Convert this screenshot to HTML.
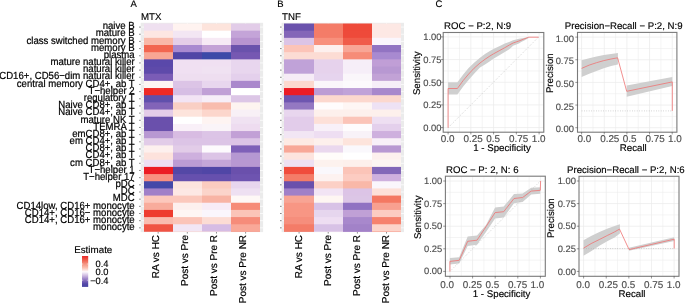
<!DOCTYPE html><html><head><meta charset="utf-8"><style>html,body{margin:0;padding:0;background:#fff;}body{width:685px;height:303px;overflow:hidden;} svg{display:block;will-change:transform;text-rendering:geometricPrecision;}</style></head><body><svg width="685" height="303" viewBox="0 0 685 303" font-family='"Liberation Sans", sans-serif'>
<rect width="685" height="303" fill="#fff"/>
<rect x="140.70" y="22.80" width="122.40" height="209.33" fill="#ebebeb"/>
<line x1="140.70" y1="27.09" x2="263.10" y2="27.09" stroke="#fff" stroke-width="0.7"/>
<line x1="140.70" y1="34.25" x2="263.10" y2="34.25" stroke="#fff" stroke-width="0.7"/>
<line x1="140.70" y1="41.42" x2="263.10" y2="41.42" stroke="#fff" stroke-width="0.7"/>
<line x1="140.70" y1="48.59" x2="263.10" y2="48.59" stroke="#fff" stroke-width="0.7"/>
<line x1="140.70" y1="55.77" x2="263.10" y2="55.77" stroke="#fff" stroke-width="0.7"/>
<line x1="140.70" y1="62.94" x2="263.10" y2="62.94" stroke="#fff" stroke-width="0.7"/>
<line x1="140.70" y1="70.10" x2="263.10" y2="70.10" stroke="#fff" stroke-width="0.7"/>
<line x1="140.70" y1="77.28" x2="263.10" y2="77.28" stroke="#fff" stroke-width="0.7"/>
<line x1="140.70" y1="84.44" x2="263.10" y2="84.44" stroke="#fff" stroke-width="0.7"/>
<line x1="140.70" y1="91.61" x2="263.10" y2="91.61" stroke="#fff" stroke-width="0.7"/>
<line x1="140.70" y1="98.78" x2="263.10" y2="98.78" stroke="#fff" stroke-width="0.7"/>
<line x1="140.70" y1="105.95" x2="263.10" y2="105.95" stroke="#fff" stroke-width="0.7"/>
<line x1="140.70" y1="113.12" x2="263.10" y2="113.12" stroke="#fff" stroke-width="0.7"/>
<line x1="140.70" y1="120.30" x2="263.10" y2="120.30" stroke="#fff" stroke-width="0.7"/>
<line x1="140.70" y1="127.47" x2="263.10" y2="127.47" stroke="#fff" stroke-width="0.7"/>
<line x1="140.70" y1="134.63" x2="263.10" y2="134.63" stroke="#fff" stroke-width="0.7"/>
<line x1="140.70" y1="141.81" x2="263.10" y2="141.81" stroke="#fff" stroke-width="0.7"/>
<line x1="140.70" y1="148.97" x2="263.10" y2="148.97" stroke="#fff" stroke-width="0.7"/>
<line x1="140.70" y1="156.15" x2="263.10" y2="156.15" stroke="#fff" stroke-width="0.7"/>
<line x1="140.70" y1="163.31" x2="263.10" y2="163.31" stroke="#fff" stroke-width="0.7"/>
<line x1="140.70" y1="170.48" x2="263.10" y2="170.48" stroke="#fff" stroke-width="0.7"/>
<line x1="140.70" y1="177.66" x2="263.10" y2="177.66" stroke="#fff" stroke-width="0.7"/>
<line x1="140.70" y1="184.82" x2="263.10" y2="184.82" stroke="#fff" stroke-width="0.7"/>
<line x1="140.70" y1="192.00" x2="263.10" y2="192.00" stroke="#fff" stroke-width="0.7"/>
<line x1="140.70" y1="199.16" x2="263.10" y2="199.16" stroke="#fff" stroke-width="0.7"/>
<line x1="140.70" y1="206.34" x2="263.10" y2="206.34" stroke="#fff" stroke-width="0.7"/>
<line x1="140.70" y1="213.50" x2="263.10" y2="213.50" stroke="#fff" stroke-width="0.7"/>
<line x1="140.70" y1="220.68" x2="263.10" y2="220.68" stroke="#fff" stroke-width="0.7"/>
<line x1="140.70" y1="227.84" x2="263.10" y2="227.84" stroke="#fff" stroke-width="0.7"/>
<line x1="158.17" y1="22.80" x2="158.17" y2="232.13" stroke="#fff" stroke-width="0.7"/>
<line x1="187.32" y1="22.80" x2="187.32" y2="232.13" stroke="#fff" stroke-width="0.7"/>
<line x1="216.47" y1="22.80" x2="216.47" y2="232.13" stroke="#fff" stroke-width="0.7"/>
<line x1="245.62" y1="22.80" x2="245.62" y2="232.13" stroke="#fff" stroke-width="0.7"/>
<rect x="144.00" y="23.50" width="29.00" height="207.93" fill="#efe0f0"/>
<rect x="173.00" y="23.50" width="29.00" height="207.93" fill="#fff3f0"/>
<rect x="202.00" y="23.50" width="29.00" height="207.93" fill="#fde4dc"/>
<rect x="231.00" y="23.50" width="29.00" height="207.93" fill="#e2cce8"/>
<rect x="144.00" y="30.67" width="29.00" height="200.76" fill="#fde6e2"/>
<rect x="173.00" y="30.67" width="29.00" height="200.76" fill="#f3e6f3"/>
<rect x="202.00" y="30.67" width="29.00" height="200.76" fill="#ffffff"/>
<rect x="231.00" y="30.67" width="29.00" height="200.76" fill="#c4a4d8"/>
<rect x="144.00" y="37.84" width="29.00" height="193.59" fill="#f9b8a8"/>
<rect x="173.00" y="37.84" width="29.00" height="193.59" fill="#e4cee8"/>
<rect x="202.00" y="37.84" width="29.00" height="193.59" fill="#f7eaf5"/>
<rect x="231.00" y="37.84" width="29.00" height="193.59" fill="#b894d0"/>
<rect x="144.00" y="45.01" width="29.00" height="186.42" fill="#f26650"/>
<rect x="173.00" y="45.01" width="29.00" height="186.42" fill="#a88ad0"/>
<rect x="202.00" y="45.01" width="29.00" height="186.42" fill="#c4a2d6"/>
<rect x="231.00" y="45.01" width="29.00" height="186.42" fill="#6a52ac"/>
<rect x="144.00" y="52.18" width="29.00" height="179.25" fill="#f8a694"/>
<rect x="173.00" y="52.18" width="29.00" height="179.25" fill="#5046a6"/>
<rect x="202.00" y="52.18" width="29.00" height="179.25" fill="#3d4aa8"/>
<rect x="231.00" y="52.18" width="29.00" height="179.25" fill="#7658b2"/>
<rect x="144.00" y="59.35" width="29.00" height="172.08" fill="#5a48aa"/>
<rect x="173.00" y="59.35" width="29.00" height="172.08" fill="#f0e0f2"/>
<rect x="202.00" y="59.35" width="29.00" height="172.08" fill="#f0e0f2"/>
<rect x="231.00" y="59.35" width="29.00" height="172.08" fill="#e8d6ee"/>
<rect x="144.00" y="66.52" width="29.00" height="164.91" fill="#5e4aaa"/>
<rect x="173.00" y="66.52" width="29.00" height="164.91" fill="#f0e0f2"/>
<rect x="202.00" y="66.52" width="29.00" height="164.91" fill="#f0e2f2"/>
<rect x="231.00" y="66.52" width="29.00" height="164.91" fill="#e8d6ee"/>
<rect x="144.00" y="73.69" width="29.00" height="157.74" fill="#7a5cb6"/>
<rect x="173.00" y="73.69" width="29.00" height="157.74" fill="#eedef0"/>
<rect x="202.00" y="73.69" width="29.00" height="157.74" fill="#eedef0"/>
<rect x="231.00" y="73.69" width="29.00" height="157.74" fill="#e4d0ec"/>
<rect x="144.00" y="80.86" width="29.00" height="150.57" fill="#fdf4f2"/>
<rect x="173.00" y="80.86" width="29.00" height="150.57" fill="#dcc4e6"/>
<rect x="202.00" y="80.86" width="29.00" height="150.57" fill="#e8d6ee"/>
<rect x="231.00" y="80.86" width="29.00" height="150.57" fill="#aa88cc"/>
<rect x="144.00" y="88.03" width="29.00" height="143.40" fill="#ee2a26"/>
<rect x="173.00" y="88.03" width="29.00" height="143.40" fill="#d6bee4"/>
<rect x="202.00" y="88.03" width="29.00" height="143.40" fill="#c0a0d6"/>
<rect x="231.00" y="88.03" width="29.00" height="143.40" fill="#ffffff"/>
<rect x="144.00" y="95.20" width="29.00" height="136.23" fill="#6050ac"/>
<rect x="173.00" y="95.20" width="29.00" height="136.23" fill="#f2e4f4"/>
<rect x="202.00" y="95.20" width="29.00" height="136.23" fill="#f6eef8"/>
<rect x="231.00" y="95.20" width="29.00" height="136.23" fill="#dcc6e6"/>
<rect x="144.00" y="102.37" width="29.00" height="129.06" fill="#8264b8"/>
<rect x="173.00" y="102.37" width="29.00" height="129.06" fill="#f9cfc4"/>
<rect x="202.00" y="102.37" width="29.00" height="129.06" fill="#f8bcae"/>
<rect x="231.00" y="102.37" width="29.00" height="129.06" fill="#fdf4f0"/>
<rect x="144.00" y="109.54" width="29.00" height="121.89" fill="#e4cce8"/>
<rect x="173.00" y="109.54" width="29.00" height="121.89" fill="#fde4dc"/>
<rect x="202.00" y="109.54" width="29.00" height="121.89" fill="#fcd6cc"/>
<rect x="231.00" y="109.54" width="29.00" height="121.89" fill="#f8f0f6"/>
<rect x="144.00" y="116.71" width="29.00" height="114.72" fill="#6a50ac"/>
<rect x="173.00" y="116.71" width="29.00" height="114.72" fill="#ffffff"/>
<rect x="202.00" y="116.71" width="29.00" height="114.72" fill="#fef4f2"/>
<rect x="231.00" y="116.71" width="29.00" height="114.72" fill="#f0e2f2"/>
<rect x="144.00" y="123.88" width="29.00" height="107.55" fill="#6a50ac"/>
<rect x="173.00" y="123.88" width="29.00" height="107.55" fill="#f9f0f8"/>
<rect x="202.00" y="123.88" width="29.00" height="107.55" fill="#faf4f8"/>
<rect x="231.00" y="123.88" width="29.00" height="107.55" fill="#eedcf0"/>
<rect x="144.00" y="131.05" width="29.00" height="100.38" fill="#b898d2"/>
<rect x="173.00" y="131.05" width="29.00" height="100.38" fill="#d8bce2"/>
<rect x="202.00" y="131.05" width="29.00" height="100.38" fill="#dcc4e6"/>
<rect x="231.00" y="131.05" width="29.00" height="100.38" fill="#c2a0d6"/>
<rect x="144.00" y="138.22" width="29.00" height="93.21" fill="#e2cce8"/>
<rect x="173.00" y="138.22" width="29.00" height="93.21" fill="#dcc4e6"/>
<rect x="202.00" y="138.22" width="29.00" height="93.21" fill="#dcc4e6"/>
<rect x="231.00" y="138.22" width="29.00" height="93.21" fill="#dcc4e6"/>
<rect x="144.00" y="145.39" width="29.00" height="86.04" fill="#fdf0ee"/>
<rect x="173.00" y="145.39" width="29.00" height="86.04" fill="#e2cce8"/>
<rect x="202.00" y="145.39" width="29.00" height="86.04" fill="#fdfafd"/>
<rect x="231.00" y="145.39" width="29.00" height="86.04" fill="#7e60b8"/>
<rect x="144.00" y="152.56" width="29.00" height="78.87" fill="#fde2dc"/>
<rect x="173.00" y="152.56" width="29.00" height="78.87" fill="#ceb0de"/>
<rect x="202.00" y="152.56" width="29.00" height="78.87" fill="#dcc4e6"/>
<rect x="231.00" y="152.56" width="29.00" height="78.87" fill="#b598d2"/>
<rect x="144.00" y="159.73" width="29.00" height="71.70" fill="#eedef2"/>
<rect x="173.00" y="159.73" width="29.00" height="71.70" fill="#bc9cd4"/>
<rect x="202.00" y="159.73" width="29.00" height="71.70" fill="#c4a6d8"/>
<rect x="231.00" y="159.73" width="29.00" height="71.70" fill="#b898d2"/>
<rect x="144.00" y="166.90" width="29.00" height="64.53" fill="#ec1c24"/>
<rect x="173.00" y="166.90" width="29.00" height="64.53" fill="#5448a6"/>
<rect x="202.00" y="166.90" width="29.00" height="64.53" fill="#5046a6"/>
<rect x="231.00" y="166.90" width="29.00" height="64.53" fill="#6a50ac"/>
<rect x="144.00" y="174.07" width="29.00" height="57.36" fill="#f99080"/>
<rect x="173.00" y="174.07" width="29.00" height="57.36" fill="#6650ae"/>
<rect x="202.00" y="174.07" width="29.00" height="57.36" fill="#6650ae"/>
<rect x="231.00" y="174.07" width="29.00" height="57.36" fill="#6e54b0"/>
<rect x="144.00" y="181.24" width="29.00" height="50.19" fill="#4448a8"/>
<rect x="173.00" y="181.24" width="29.00" height="50.19" fill="#fde4de"/>
<rect x="202.00" y="181.24" width="29.00" height="50.19" fill="#fbccc0"/>
<rect x="231.00" y="181.24" width="29.00" height="50.19" fill="#e8d6ee"/>
<rect x="144.00" y="188.41" width="29.00" height="43.02" fill="#a080c8"/>
<rect x="173.00" y="188.41" width="29.00" height="43.02" fill="#fde8e4"/>
<rect x="202.00" y="188.41" width="29.00" height="43.02" fill="#fbd4ca"/>
<rect x="231.00" y="188.41" width="29.00" height="43.02" fill="#eee0f2"/>
<rect x="144.00" y="195.58" width="29.00" height="35.85" fill="#fcc8bc"/>
<rect x="173.00" y="195.58" width="29.00" height="35.85" fill="#fbc8bc"/>
<rect x="202.00" y="195.58" width="29.00" height="35.85" fill="#f8b4a4"/>
<rect x="231.00" y="195.58" width="29.00" height="35.85" fill="#fef8f6"/>
<rect x="144.00" y="202.75" width="29.00" height="28.68" fill="#f8ac9c"/>
<rect x="173.00" y="202.75" width="29.00" height="28.68" fill="#fdf0ee"/>
<rect x="202.00" y="202.75" width="29.00" height="28.68" fill="#f8ecf6"/>
<rect x="231.00" y="202.75" width="29.00" height="28.68" fill="#f68c78"/>
<rect x="144.00" y="209.92" width="29.00" height="21.51" fill="#ee3c30"/>
<rect x="173.00" y="209.92" width="29.00" height="21.51" fill="#fef6f4"/>
<rect x="202.00" y="209.92" width="29.00" height="21.51" fill="#faf6fc"/>
<rect x="231.00" y="209.92" width="29.00" height="21.51" fill="#fbc4b8"/>
<rect x="144.00" y="217.09" width="29.00" height="14.34" fill="#f9bcb0"/>
<rect x="173.00" y="217.09" width="29.00" height="14.34" fill="#fbc4b8"/>
<rect x="202.00" y="217.09" width="29.00" height="14.34" fill="#fcdcd4"/>
<rect x="231.00" y="217.09" width="29.00" height="14.34" fill="#f68c7a"/>
<rect x="144.00" y="224.26" width="29.00" height="7.17" fill="#f05444"/>
<rect x="173.00" y="224.26" width="29.00" height="7.17" fill="#f2e6f4"/>
<rect x="202.00" y="224.26" width="29.00" height="7.17" fill="#d6bce4"/>
<rect x="231.00" y="224.26" width="29.00" height="7.17" fill="#f9a898"/>
<line x1="139.10" y1="27.09" x2="140.70" y2="27.09" stroke="#333" stroke-width="0.6"/>
<text transform="translate(134.70,29.29) scale(1,1.08)" font-size="9.6" text-anchor="end" fill="#000" stroke="#000" stroke-width="0.2">naive B</text>
<line x1="139.10" y1="34.25" x2="140.70" y2="34.25" stroke="#333" stroke-width="0.6"/>
<text transform="translate(134.70,36.45) scale(1,1.08)" font-size="9.6" text-anchor="end" fill="#000" stroke="#000" stroke-width="0.2">mature B</text>
<line x1="139.10" y1="41.42" x2="140.70" y2="41.42" stroke="#333" stroke-width="0.6"/>
<text transform="translate(134.70,43.62) scale(1,1.08)" font-size="9.6" text-anchor="end" fill="#000" stroke="#000" stroke-width="0.2">class switched memory B</text>
<line x1="139.10" y1="48.59" x2="140.70" y2="48.59" stroke="#333" stroke-width="0.6"/>
<text transform="translate(134.70,50.80) scale(1,1.08)" font-size="9.6" text-anchor="end" fill="#000" stroke="#000" stroke-width="0.2">memory B</text>
<line x1="139.10" y1="55.77" x2="140.70" y2="55.77" stroke="#333" stroke-width="0.6"/>
<text transform="translate(134.70,57.97) scale(1,1.08)" font-size="9.6" text-anchor="end" fill="#000" stroke="#000" stroke-width="0.2">plasma</text>
<line x1="139.10" y1="62.94" x2="140.70" y2="62.94" stroke="#333" stroke-width="0.6"/>
<text transform="translate(134.70,65.14) scale(1,1.08)" font-size="9.6" text-anchor="end" fill="#000" stroke="#000" stroke-width="0.2">mature natural killer</text>
<line x1="139.10" y1="70.10" x2="140.70" y2="70.10" stroke="#333" stroke-width="0.6"/>
<text transform="translate(134.70,72.30) scale(1,1.08)" font-size="9.6" text-anchor="end" fill="#000" stroke="#000" stroke-width="0.2">natural killer</text>
<line x1="139.10" y1="77.28" x2="140.70" y2="77.28" stroke="#333" stroke-width="0.6"/>
<text transform="translate(134.70,79.48) scale(1,1.08)" font-size="9.6" text-anchor="end" fill="#000" stroke="#000" stroke-width="0.2">CD16+, CD56−dim natural killer</text>
<line x1="139.10" y1="84.44" x2="140.70" y2="84.44" stroke="#333" stroke-width="0.6"/>
<text transform="translate(134.70,86.64) scale(1,1.08)" font-size="9.6" text-anchor="end" fill="#000" stroke="#000" stroke-width="0.2">central memory CD4+, ab T</text>
<line x1="139.10" y1="91.61" x2="140.70" y2="91.61" stroke="#333" stroke-width="0.6"/>
<text transform="translate(134.70,93.81) scale(1,1.08)" font-size="9.6" text-anchor="end" fill="#000" stroke="#000" stroke-width="0.2">T−helper 2</text>
<line x1="139.10" y1="98.78" x2="140.70" y2="98.78" stroke="#333" stroke-width="0.6"/>
<text transform="translate(134.70,100.98) scale(1,1.08)" font-size="9.6" text-anchor="end" fill="#000" stroke="#000" stroke-width="0.2">regulatory T</text>
<line x1="139.10" y1="105.95" x2="140.70" y2="105.95" stroke="#333" stroke-width="0.6"/>
<text transform="translate(134.70,108.16) scale(1,1.08)" font-size="9.6" text-anchor="end" fill="#000" stroke="#000" stroke-width="0.2">Naive CD8+, ab T</text>
<line x1="139.10" y1="113.12" x2="140.70" y2="113.12" stroke="#333" stroke-width="0.6"/>
<text transform="translate(134.70,115.33) scale(1,1.08)" font-size="9.6" text-anchor="end" fill="#000" stroke="#000" stroke-width="0.2">Naive CD4+, ab T</text>
<line x1="139.10" y1="120.30" x2="140.70" y2="120.30" stroke="#333" stroke-width="0.6"/>
<text transform="translate(134.70,122.50) scale(1,1.08)" font-size="9.6" text-anchor="end" fill="#000" stroke="#000" stroke-width="0.2">mature NK T</text>
<line x1="139.10" y1="127.47" x2="140.70" y2="127.47" stroke="#333" stroke-width="0.6"/>
<text transform="translate(134.70,129.66) scale(1,1.08)" font-size="9.6" text-anchor="end" fill="#000" stroke="#000" stroke-width="0.2">TEMRA T</text>
<line x1="139.10" y1="134.63" x2="140.70" y2="134.63" stroke="#333" stroke-width="0.6"/>
<text transform="translate(134.70,136.83) scale(1,1.08)" font-size="9.6" text-anchor="end" fill="#000" stroke="#000" stroke-width="0.2">emCD8+, ab T</text>
<line x1="139.10" y1="141.81" x2="140.70" y2="141.81" stroke="#333" stroke-width="0.6"/>
<text transform="translate(134.70,144.00) scale(1,1.08)" font-size="9.6" text-anchor="end" fill="#000" stroke="#000" stroke-width="0.2">em CD4+, ab T</text>
<line x1="139.10" y1="148.97" x2="140.70" y2="148.97" stroke="#333" stroke-width="0.6"/>
<text transform="translate(134.70,151.17) scale(1,1.08)" font-size="9.6" text-anchor="end" fill="#000" stroke="#000" stroke-width="0.2">CD8+, ab T</text>
<line x1="139.10" y1="156.15" x2="140.70" y2="156.15" stroke="#333" stroke-width="0.6"/>
<text transform="translate(134.70,158.34) scale(1,1.08)" font-size="9.6" text-anchor="end" fill="#000" stroke="#000" stroke-width="0.2">CD4+, ab T</text>
<line x1="139.10" y1="163.31" x2="140.70" y2="163.31" stroke="#333" stroke-width="0.6"/>
<text transform="translate(134.70,165.51) scale(1,1.08)" font-size="9.6" text-anchor="end" fill="#000" stroke="#000" stroke-width="0.2">cm CD8+, ab T</text>
<line x1="139.10" y1="170.48" x2="140.70" y2="170.48" stroke="#333" stroke-width="0.6"/>
<text transform="translate(134.70,172.68) scale(1,1.08)" font-size="9.6" text-anchor="end" fill="#000" stroke="#000" stroke-width="0.2">T−helper 1</text>
<line x1="139.10" y1="177.66" x2="140.70" y2="177.66" stroke="#333" stroke-width="0.6"/>
<text transform="translate(134.70,179.85) scale(1,1.08)" font-size="9.6" text-anchor="end" fill="#000" stroke="#000" stroke-width="0.2">T−helper 17</text>
<line x1="139.10" y1="184.82" x2="140.70" y2="184.82" stroke="#333" stroke-width="0.6"/>
<text transform="translate(134.70,187.02) scale(1,1.08)" font-size="9.6" text-anchor="end" fill="#000" stroke="#000" stroke-width="0.2">pDC</text>
<line x1="139.10" y1="192.00" x2="140.70" y2="192.00" stroke="#333" stroke-width="0.6"/>
<text transform="translate(134.70,194.19) scale(1,1.08)" font-size="9.6" text-anchor="end" fill="#000" stroke="#000" stroke-width="0.2">DC</text>
<line x1="139.10" y1="199.16" x2="140.70" y2="199.16" stroke="#333" stroke-width="0.6"/>
<text transform="translate(134.70,201.36) scale(1,1.08)" font-size="9.6" text-anchor="end" fill="#000" stroke="#000" stroke-width="0.2">MDC</text>
<line x1="139.10" y1="206.34" x2="140.70" y2="206.34" stroke="#333" stroke-width="0.6"/>
<text transform="translate(134.70,208.53) scale(1,1.08)" font-size="9.6" text-anchor="end" fill="#000" stroke="#000" stroke-width="0.2">CD14low, CD16+ monocyte</text>
<line x1="139.10" y1="213.50" x2="140.70" y2="213.50" stroke="#333" stroke-width="0.6"/>
<text transform="translate(134.70,215.70) scale(1,1.08)" font-size="9.6" text-anchor="end" fill="#000" stroke="#000" stroke-width="0.2">CD14+, CD16− monocyte</text>
<line x1="139.10" y1="220.68" x2="140.70" y2="220.68" stroke="#333" stroke-width="0.6"/>
<text transform="translate(134.70,222.88) scale(1,1.08)" font-size="9.6" text-anchor="end" fill="#000" stroke="#000" stroke-width="0.2">CD14+, CD16+ monocyte</text>
<line x1="139.10" y1="227.84" x2="140.70" y2="227.84" stroke="#333" stroke-width="0.6"/>
<text transform="translate(134.70,230.04) scale(1,1.08)" font-size="9.6" text-anchor="end" fill="#000" stroke="#000" stroke-width="0.2">monocyte</text>
<line x1="158.17" y1="232.13" x2="158.17" y2="233.53" stroke="#333" stroke-width="0.6"/>
<text transform="translate(158.87,234.90) rotate(-90) scale(1,1.0)" font-size="10.0" text-anchor="end" fill="#000" stroke="#000" stroke-width="0.2">RA vs HC</text>
<line x1="187.32" y1="232.13" x2="187.32" y2="233.53" stroke="#333" stroke-width="0.6"/>
<text transform="translate(188.02,234.90) rotate(-90) scale(1,1.0)" font-size="10.0" text-anchor="end" fill="#000" stroke="#000" stroke-width="0.2">Post vs Pre</text>
<line x1="216.47" y1="232.13" x2="216.47" y2="233.53" stroke="#333" stroke-width="0.6"/>
<text transform="translate(217.17,234.90) rotate(-90) scale(1,1.0)" font-size="10.0" text-anchor="end" fill="#000" stroke="#000" stroke-width="0.2">Post vs Pre R</text>
<line x1="245.62" y1="232.13" x2="245.62" y2="233.53" stroke="#333" stroke-width="0.6"/>
<text transform="translate(246.32,234.90) rotate(-90) scale(1,1.0)" font-size="10.0" text-anchor="end" fill="#000" stroke="#000" stroke-width="0.2">Post vs Pre NR</text>
<text x="130.6" y="6.8" font-size="9.5" fill="#000" stroke="#000" stroke-width="0.15">A</text>
<text x="141.0" y="19.9" font-size="9.7" fill="#000" stroke="#000" stroke-width="0.15">MTX</text>
<rect x="281.60" y="22.80" width="122.40" height="209.33" fill="#ebebeb"/>
<line x1="281.60" y1="27.09" x2="404.00" y2="27.09" stroke="#fff" stroke-width="0.7"/>
<line x1="281.60" y1="34.25" x2="404.00" y2="34.25" stroke="#fff" stroke-width="0.7"/>
<line x1="281.60" y1="41.42" x2="404.00" y2="41.42" stroke="#fff" stroke-width="0.7"/>
<line x1="281.60" y1="48.59" x2="404.00" y2="48.59" stroke="#fff" stroke-width="0.7"/>
<line x1="281.60" y1="55.77" x2="404.00" y2="55.77" stroke="#fff" stroke-width="0.7"/>
<line x1="281.60" y1="62.94" x2="404.00" y2="62.94" stroke="#fff" stroke-width="0.7"/>
<line x1="281.60" y1="70.10" x2="404.00" y2="70.10" stroke="#fff" stroke-width="0.7"/>
<line x1="281.60" y1="77.28" x2="404.00" y2="77.28" stroke="#fff" stroke-width="0.7"/>
<line x1="281.60" y1="84.44" x2="404.00" y2="84.44" stroke="#fff" stroke-width="0.7"/>
<line x1="281.60" y1="91.61" x2="404.00" y2="91.61" stroke="#fff" stroke-width="0.7"/>
<line x1="281.60" y1="98.78" x2="404.00" y2="98.78" stroke="#fff" stroke-width="0.7"/>
<line x1="281.60" y1="105.95" x2="404.00" y2="105.95" stroke="#fff" stroke-width="0.7"/>
<line x1="281.60" y1="113.12" x2="404.00" y2="113.12" stroke="#fff" stroke-width="0.7"/>
<line x1="281.60" y1="120.30" x2="404.00" y2="120.30" stroke="#fff" stroke-width="0.7"/>
<line x1="281.60" y1="127.47" x2="404.00" y2="127.47" stroke="#fff" stroke-width="0.7"/>
<line x1="281.60" y1="134.63" x2="404.00" y2="134.63" stroke="#fff" stroke-width="0.7"/>
<line x1="281.60" y1="141.81" x2="404.00" y2="141.81" stroke="#fff" stroke-width="0.7"/>
<line x1="281.60" y1="148.97" x2="404.00" y2="148.97" stroke="#fff" stroke-width="0.7"/>
<line x1="281.60" y1="156.15" x2="404.00" y2="156.15" stroke="#fff" stroke-width="0.7"/>
<line x1="281.60" y1="163.31" x2="404.00" y2="163.31" stroke="#fff" stroke-width="0.7"/>
<line x1="281.60" y1="170.48" x2="404.00" y2="170.48" stroke="#fff" stroke-width="0.7"/>
<line x1="281.60" y1="177.66" x2="404.00" y2="177.66" stroke="#fff" stroke-width="0.7"/>
<line x1="281.60" y1="184.82" x2="404.00" y2="184.82" stroke="#fff" stroke-width="0.7"/>
<line x1="281.60" y1="192.00" x2="404.00" y2="192.00" stroke="#fff" stroke-width="0.7"/>
<line x1="281.60" y1="199.16" x2="404.00" y2="199.16" stroke="#fff" stroke-width="0.7"/>
<line x1="281.60" y1="206.34" x2="404.00" y2="206.34" stroke="#fff" stroke-width="0.7"/>
<line x1="281.60" y1="213.50" x2="404.00" y2="213.50" stroke="#fff" stroke-width="0.7"/>
<line x1="281.60" y1="220.68" x2="404.00" y2="220.68" stroke="#fff" stroke-width="0.7"/>
<line x1="281.60" y1="227.84" x2="404.00" y2="227.84" stroke="#fff" stroke-width="0.7"/>
<line x1="299.07" y1="22.80" x2="299.07" y2="232.13" stroke="#fff" stroke-width="0.7"/>
<line x1="328.23" y1="22.80" x2="328.23" y2="232.13" stroke="#fff" stroke-width="0.7"/>
<line x1="357.38" y1="22.80" x2="357.38" y2="232.13" stroke="#fff" stroke-width="0.7"/>
<line x1="386.52" y1="22.80" x2="386.52" y2="232.13" stroke="#fff" stroke-width="0.7"/>
<rect x="284.00" y="23.50" width="30.00" height="207.93" fill="#6a52ac"/>
<rect x="314.00" y="23.50" width="29.00" height="207.93" fill="#f47c68"/>
<rect x="343.00" y="23.50" width="29.00" height="207.93" fill="#ee4a3a"/>
<rect x="372.00" y="23.50" width="29.00" height="207.93" fill="#fde8e4"/>
<rect x="284.00" y="30.67" width="30.00" height="200.76" fill="#8466b8"/>
<rect x="314.00" y="30.67" width="29.00" height="200.76" fill="#f47c68"/>
<rect x="343.00" y="30.67" width="29.00" height="200.76" fill="#ee4a3a"/>
<rect x="372.00" y="30.67" width="29.00" height="200.76" fill="#fde8e4"/>
<rect x="284.00" y="37.84" width="30.00" height="193.59" fill="#dcc4e6"/>
<rect x="314.00" y="37.84" width="29.00" height="193.59" fill="#f8907c"/>
<rect x="343.00" y="37.84" width="29.00" height="193.59" fill="#f05c4a"/>
<rect x="372.00" y="37.84" width="29.00" height="193.59" fill="#faf6fc"/>
<rect x="284.00" y="45.01" width="30.00" height="186.42" fill="#fcc4b8"/>
<rect x="314.00" y="45.01" width="29.00" height="186.42" fill="#fdf0ee"/>
<rect x="343.00" y="45.01" width="29.00" height="186.42" fill="#f8a696"/>
<rect x="372.00" y="45.01" width="29.00" height="186.42" fill="#9274c2"/>
<rect x="284.00" y="52.18" width="30.00" height="179.25" fill="#fcdcd4"/>
<rect x="314.00" y="52.18" width="29.00" height="179.25" fill="#fcdcd4"/>
<rect x="343.00" y="52.18" width="29.00" height="179.25" fill="#f68c78"/>
<rect x="372.00" y="52.18" width="29.00" height="179.25" fill="#a88ad0"/>
<rect x="284.00" y="59.35" width="30.00" height="172.08" fill="#c0a2d8"/>
<rect x="314.00" y="59.35" width="29.00" height="172.08" fill="#e6d2ec"/>
<rect x="343.00" y="59.35" width="29.00" height="172.08" fill="#f6eef8"/>
<rect x="372.00" y="59.35" width="29.00" height="172.08" fill="#c09ed6"/>
<rect x="284.00" y="66.52" width="30.00" height="164.91" fill="#c0a2d8"/>
<rect x="314.00" y="66.52" width="29.00" height="164.91" fill="#e6d2ec"/>
<rect x="343.00" y="66.52" width="29.00" height="164.91" fill="#f6eef8"/>
<rect x="372.00" y="66.52" width="29.00" height="164.91" fill="#b898d2"/>
<rect x="284.00" y="73.69" width="30.00" height="157.74" fill="#f6ecf6"/>
<rect x="314.00" y="73.69" width="29.00" height="157.74" fill="#e6d4ee"/>
<rect x="343.00" y="73.69" width="29.00" height="157.74" fill="#faf6fa"/>
<rect x="372.00" y="73.69" width="29.00" height="157.74" fill="#c2a2d6"/>
<rect x="284.00" y="80.86" width="30.00" height="150.57" fill="#fcd8ce"/>
<rect x="314.00" y="80.86" width="29.00" height="150.57" fill="#faf6fa"/>
<rect x="343.00" y="80.86" width="29.00" height="150.57" fill="#fcfafc"/>
<rect x="372.00" y="80.86" width="29.00" height="150.57" fill="#f6eef8"/>
<rect x="284.00" y="88.03" width="30.00" height="143.40" fill="#ec1c24"/>
<rect x="314.00" y="88.03" width="29.00" height="143.40" fill="#bc9cd4"/>
<rect x="343.00" y="88.03" width="29.00" height="143.40" fill="#c0a2d8"/>
<rect x="372.00" y="88.03" width="29.00" height="143.40" fill="#a888cc"/>
<rect x="284.00" y="95.20" width="30.00" height="136.23" fill="#6e56b0"/>
<rect x="314.00" y="95.20" width="29.00" height="136.23" fill="#fcd8ce"/>
<rect x="343.00" y="95.20" width="29.00" height="136.23" fill="#fcd8ce"/>
<rect x="372.00" y="95.20" width="29.00" height="136.23" fill="#fcd8ce"/>
<rect x="284.00" y="102.37" width="30.00" height="129.06" fill="#9478c2"/>
<rect x="314.00" y="102.37" width="29.00" height="129.06" fill="#fffcfc"/>
<rect x="343.00" y="102.37" width="29.00" height="129.06" fill="#fef6f4"/>
<rect x="372.00" y="102.37" width="29.00" height="129.06" fill="#eee2f4"/>
<rect x="284.00" y="109.54" width="30.00" height="121.89" fill="#e8d6ee"/>
<rect x="314.00" y="109.54" width="29.00" height="121.89" fill="#fdf0ec"/>
<rect x="343.00" y="109.54" width="29.00" height="121.89" fill="#fdf0ec"/>
<rect x="372.00" y="109.54" width="29.00" height="121.89" fill="#fdf0ec"/>
<rect x="284.00" y="116.71" width="30.00" height="114.72" fill="#e2ccea"/>
<rect x="314.00" y="116.71" width="29.00" height="114.72" fill="#fde0d8"/>
<rect x="343.00" y="116.71" width="29.00" height="114.72" fill="#fbc4b8"/>
<rect x="372.00" y="116.71" width="29.00" height="114.72" fill="#eedff2"/>
<rect x="284.00" y="123.88" width="30.00" height="107.55" fill="#e2ccea"/>
<rect x="314.00" y="123.88" width="29.00" height="107.55" fill="#f8f0f8"/>
<rect x="343.00" y="123.88" width="29.00" height="107.55" fill="#fefcfd"/>
<rect x="372.00" y="123.88" width="29.00" height="107.55" fill="#e4d0ec"/>
<rect x="284.00" y="131.05" width="30.00" height="100.38" fill="#f2e6f4"/>
<rect x="314.00" y="131.05" width="29.00" height="100.38" fill="#eedef2"/>
<rect x="343.00" y="131.05" width="29.00" height="100.38" fill="#f8f2f8"/>
<rect x="372.00" y="131.05" width="29.00" height="100.38" fill="#ceb0de"/>
<rect x="284.00" y="138.22" width="30.00" height="93.21" fill="#fdeae4"/>
<rect x="314.00" y="138.22" width="29.00" height="93.21" fill="#fdf0ec"/>
<rect x="343.00" y="138.22" width="29.00" height="93.21" fill="#fde4dc"/>
<rect x="372.00" y="138.22" width="29.00" height="93.21" fill="#f8f0f8"/>
<rect x="284.00" y="145.39" width="30.00" height="86.04" fill="#f8a898"/>
<rect x="314.00" y="145.39" width="29.00" height="86.04" fill="#ead8ee"/>
<rect x="343.00" y="145.39" width="29.00" height="86.04" fill="#faf8fc"/>
<rect x="372.00" y="145.39" width="29.00" height="86.04" fill="#b898d2"/>
<rect x="284.00" y="152.56" width="30.00" height="78.87" fill="#fde4de"/>
<rect x="314.00" y="152.56" width="29.00" height="78.87" fill="#fffcfa"/>
<rect x="343.00" y="152.56" width="29.00" height="78.87" fill="#ffffff"/>
<rect x="372.00" y="152.56" width="29.00" height="78.87" fill="#fdf0ee"/>
<rect x="284.00" y="159.73" width="30.00" height="71.70" fill="#eee0f2"/>
<rect x="314.00" y="159.73" width="29.00" height="71.70" fill="#fdf2ee"/>
<rect x="343.00" y="159.73" width="29.00" height="71.70" fill="#fdf0ec"/>
<rect x="372.00" y="159.73" width="29.00" height="71.70" fill="#fdf6f2"/>
<rect x="284.00" y="166.90" width="30.00" height="64.53" fill="#f04c3c"/>
<rect x="314.00" y="166.90" width="29.00" height="64.53" fill="#faf8fc"/>
<rect x="343.00" y="166.90" width="29.00" height="64.53" fill="#fbc4b8"/>
<rect x="372.00" y="166.90" width="29.00" height="64.53" fill="#8268b8"/>
<rect x="284.00" y="174.07" width="30.00" height="57.36" fill="#f47c68"/>
<rect x="314.00" y="174.07" width="29.00" height="57.36" fill="#fdf2f0"/>
<rect x="343.00" y="174.07" width="29.00" height="57.36" fill="#fcccc2"/>
<rect x="372.00" y="174.07" width="29.00" height="57.36" fill="#ceb0de"/>
<rect x="284.00" y="181.24" width="30.00" height="50.19" fill="#6a50ac"/>
<rect x="314.00" y="181.24" width="29.00" height="50.19" fill="#fcd0c6"/>
<rect x="343.00" y="181.24" width="29.00" height="50.19" fill="#f9b8a8"/>
<rect x="372.00" y="181.24" width="29.00" height="50.19" fill="#faf6fc"/>
<rect x="284.00" y="188.41" width="30.00" height="43.02" fill="#a080c8"/>
<rect x="314.00" y="188.41" width="29.00" height="43.02" fill="#f2e4f4"/>
<rect x="343.00" y="188.41" width="29.00" height="43.02" fill="#dcc4e6"/>
<rect x="372.00" y="188.41" width="29.00" height="43.02" fill="#fde0d8"/>
<rect x="284.00" y="195.58" width="30.00" height="35.85" fill="#f8a494"/>
<rect x="314.00" y="195.58" width="29.00" height="35.85" fill="#fef6f2"/>
<rect x="343.00" y="195.58" width="29.00" height="35.85" fill="#dcc6e6"/>
<rect x="372.00" y="195.58" width="29.00" height="35.85" fill="#f47862"/>
<rect x="284.00" y="202.75" width="30.00" height="28.68" fill="#f89684"/>
<rect x="314.00" y="202.75" width="29.00" height="28.68" fill="#d8c2e6"/>
<rect x="343.00" y="202.75" width="29.00" height="28.68" fill="#9072c2"/>
<rect x="372.00" y="202.75" width="29.00" height="28.68" fill="#f8a090"/>
<rect x="284.00" y="209.92" width="30.00" height="21.51" fill="#f89684"/>
<rect x="314.00" y="209.92" width="29.00" height="21.51" fill="#e6d6ee"/>
<rect x="343.00" y="209.92" width="29.00" height="21.51" fill="#c0a0d6"/>
<rect x="372.00" y="209.92" width="29.00" height="21.51" fill="#fcccc2"/>
<rect x="284.00" y="217.09" width="30.00" height="14.34" fill="#f68e7c"/>
<rect x="314.00" y="217.09" width="29.00" height="14.34" fill="#eedef2"/>
<rect x="343.00" y="217.09" width="29.00" height="14.34" fill="#a888cc"/>
<rect x="372.00" y="217.09" width="29.00" height="14.34" fill="#f6826e"/>
<rect x="284.00" y="224.26" width="30.00" height="7.17" fill="#f47c68"/>
<rect x="314.00" y="224.26" width="29.00" height="7.17" fill="#d8c2e6"/>
<rect x="343.00" y="224.26" width="29.00" height="7.17" fill="#a282c8"/>
<rect x="372.00" y="224.26" width="29.00" height="7.17" fill="#fcd4ca"/>
<line x1="280.00" y1="27.09" x2="281.60" y2="27.09" stroke="#333" stroke-width="0.6"/>
<line x1="280.00" y1="34.25" x2="281.60" y2="34.25" stroke="#333" stroke-width="0.6"/>
<line x1="280.00" y1="41.42" x2="281.60" y2="41.42" stroke="#333" stroke-width="0.6"/>
<line x1="280.00" y1="48.59" x2="281.60" y2="48.59" stroke="#333" stroke-width="0.6"/>
<line x1="280.00" y1="55.77" x2="281.60" y2="55.77" stroke="#333" stroke-width="0.6"/>
<line x1="280.00" y1="62.94" x2="281.60" y2="62.94" stroke="#333" stroke-width="0.6"/>
<line x1="280.00" y1="70.10" x2="281.60" y2="70.10" stroke="#333" stroke-width="0.6"/>
<line x1="280.00" y1="77.28" x2="281.60" y2="77.28" stroke="#333" stroke-width="0.6"/>
<line x1="280.00" y1="84.44" x2="281.60" y2="84.44" stroke="#333" stroke-width="0.6"/>
<line x1="280.00" y1="91.61" x2="281.60" y2="91.61" stroke="#333" stroke-width="0.6"/>
<line x1="280.00" y1="98.78" x2="281.60" y2="98.78" stroke="#333" stroke-width="0.6"/>
<line x1="280.00" y1="105.95" x2="281.60" y2="105.95" stroke="#333" stroke-width="0.6"/>
<line x1="280.00" y1="113.12" x2="281.60" y2="113.12" stroke="#333" stroke-width="0.6"/>
<line x1="280.00" y1="120.30" x2="281.60" y2="120.30" stroke="#333" stroke-width="0.6"/>
<line x1="280.00" y1="127.47" x2="281.60" y2="127.47" stroke="#333" stroke-width="0.6"/>
<line x1="280.00" y1="134.63" x2="281.60" y2="134.63" stroke="#333" stroke-width="0.6"/>
<line x1="280.00" y1="141.81" x2="281.60" y2="141.81" stroke="#333" stroke-width="0.6"/>
<line x1="280.00" y1="148.97" x2="281.60" y2="148.97" stroke="#333" stroke-width="0.6"/>
<line x1="280.00" y1="156.15" x2="281.60" y2="156.15" stroke="#333" stroke-width="0.6"/>
<line x1="280.00" y1="163.31" x2="281.60" y2="163.31" stroke="#333" stroke-width="0.6"/>
<line x1="280.00" y1="170.48" x2="281.60" y2="170.48" stroke="#333" stroke-width="0.6"/>
<line x1="280.00" y1="177.66" x2="281.60" y2="177.66" stroke="#333" stroke-width="0.6"/>
<line x1="280.00" y1="184.82" x2="281.60" y2="184.82" stroke="#333" stroke-width="0.6"/>
<line x1="280.00" y1="192.00" x2="281.60" y2="192.00" stroke="#333" stroke-width="0.6"/>
<line x1="280.00" y1="199.16" x2="281.60" y2="199.16" stroke="#333" stroke-width="0.6"/>
<line x1="280.00" y1="206.34" x2="281.60" y2="206.34" stroke="#333" stroke-width="0.6"/>
<line x1="280.00" y1="213.50" x2="281.60" y2="213.50" stroke="#333" stroke-width="0.6"/>
<line x1="280.00" y1="220.68" x2="281.60" y2="220.68" stroke="#333" stroke-width="0.6"/>
<line x1="280.00" y1="227.84" x2="281.60" y2="227.84" stroke="#333" stroke-width="0.6"/>
<line x1="299.07" y1="232.13" x2="299.07" y2="233.53" stroke="#333" stroke-width="0.6"/>
<text transform="translate(301.77,234.90) rotate(-90) scale(1,1.0)" font-size="10.0" text-anchor="end" fill="#000" stroke="#000" stroke-width="0.2">RA vs HC</text>
<line x1="328.23" y1="232.13" x2="328.23" y2="233.53" stroke="#333" stroke-width="0.6"/>
<text transform="translate(330.93,234.90) rotate(-90) scale(1,1.0)" font-size="10.0" text-anchor="end" fill="#000" stroke="#000" stroke-width="0.2">Post vs Pre</text>
<line x1="357.38" y1="232.13" x2="357.38" y2="233.53" stroke="#333" stroke-width="0.6"/>
<text transform="translate(360.07,234.90) rotate(-90) scale(1,1.0)" font-size="10.0" text-anchor="end" fill="#000" stroke="#000" stroke-width="0.2">Post vs Pre R</text>
<line x1="386.52" y1="232.13" x2="386.52" y2="233.53" stroke="#333" stroke-width="0.6"/>
<text transform="translate(389.22,234.90) rotate(-90) scale(1,1.0)" font-size="10.0" text-anchor="end" fill="#000" stroke="#000" stroke-width="0.2">Post vs Pre NR</text>
<text x="277.3" y="6.8" font-size="9.5" fill="#000" stroke="#000" stroke-width="0.15">B</text>
<text x="282.1" y="19.9" font-size="9.7" fill="#000" stroke="#000" stroke-width="0.15">TNF</text>
<defs><linearGradient id="lg" x1="0" y1="1" x2="0" y2="0"><stop offset="0" stop-color="#4644a2"/><stop offset="0.1" stop-color="#5448a8"/><stop offset="0.22" stop-color="#8a70be"/><stop offset="0.36" stop-color="#cdb8e0"/><stop offset="0.49" stop-color="#fdfafd"/><stop offset="0.62" stop-color="#fac0b0"/><stop offset="0.75" stop-color="#f4907e"/><stop offset="0.88" stop-color="#ef5a48"/><stop offset="1" stop-color="#e8282a"/></linearGradient></defs>
<text x="74.2" y="253.0" font-size="9.8" fill="#000" stroke="#000" stroke-width="0.15">Estimate</text>
<rect x="82" y="256" width="6.2" height="30.9" fill="url(#lg)"/>
<line x1="82" y1="264.0" x2="83.2" y2="264.0" stroke="#fff" stroke-width="0.5"/>
<line x1="86.8" y1="264.0" x2="88" y2="264.0" stroke="#fff" stroke-width="0.5"/>
<text x="108.5" y="267.4" font-size="9.3" text-anchor="end" fill="#000" stroke="#000" stroke-width="0.15">0.4</text>
<line x1="82" y1="271.9" x2="83.2" y2="271.9" stroke="#fff" stroke-width="0.5"/>
<line x1="86.8" y1="271.9" x2="88" y2="271.9" stroke="#fff" stroke-width="0.5"/>
<text x="108.5" y="275.3" font-size="9.3" text-anchor="end" fill="#000" stroke="#000" stroke-width="0.15">0.0</text>
<line x1="82" y1="280.2" x2="83.2" y2="280.2" stroke="#fff" stroke-width="0.5"/>
<line x1="86.8" y1="280.2" x2="88" y2="280.2" stroke="#fff" stroke-width="0.5"/>
<text x="108.5" y="283.6" font-size="9.3" text-anchor="end" fill="#000" stroke="#000" stroke-width="0.15">−0.4</text>
<rect x="443.20" y="32.50" width="100.60" height="99.70" fill="#fff"/>
<line x1="448.10" y1="32.50" x2="448.10" y2="132.20" stroke="#ebebeb" stroke-width="0.75"/>
<line x1="443.20" y1="127.60" x2="543.80" y2="127.60" stroke="#ebebeb" stroke-width="0.75"/>
<line x1="459.48" y1="32.50" x2="459.48" y2="132.20" stroke="#ebebeb" stroke-width="0.55"/>
<line x1="443.20" y1="116.26" x2="543.80" y2="116.26" stroke="#ebebeb" stroke-width="0.55"/>
<line x1="470.85" y1="32.50" x2="470.85" y2="132.20" stroke="#ebebeb" stroke-width="0.75"/>
<line x1="443.20" y1="104.92" x2="543.80" y2="104.92" stroke="#ebebeb" stroke-width="0.75"/>
<line x1="482.23" y1="32.50" x2="482.23" y2="132.20" stroke="#ebebeb" stroke-width="0.55"/>
<line x1="443.20" y1="93.59" x2="543.80" y2="93.59" stroke="#ebebeb" stroke-width="0.55"/>
<line x1="493.60" y1="32.50" x2="493.60" y2="132.20" stroke="#ebebeb" stroke-width="0.75"/>
<line x1="443.20" y1="82.25" x2="543.80" y2="82.25" stroke="#ebebeb" stroke-width="0.75"/>
<line x1="504.98" y1="32.50" x2="504.98" y2="132.20" stroke="#ebebeb" stroke-width="0.55"/>
<line x1="443.20" y1="70.91" x2="543.80" y2="70.91" stroke="#ebebeb" stroke-width="0.55"/>
<line x1="516.35" y1="32.50" x2="516.35" y2="132.20" stroke="#ebebeb" stroke-width="0.75"/>
<line x1="443.20" y1="59.58" x2="543.80" y2="59.58" stroke="#ebebeb" stroke-width="0.75"/>
<line x1="527.73" y1="32.50" x2="527.73" y2="132.20" stroke="#ebebeb" stroke-width="0.55"/>
<line x1="443.20" y1="48.24" x2="543.80" y2="48.24" stroke="#ebebeb" stroke-width="0.55"/>
<line x1="539.10" y1="32.50" x2="539.10" y2="132.20" stroke="#ebebeb" stroke-width="0.75"/>
<line x1="443.20" y1="36.90" x2="543.80" y2="36.90" stroke="#ebebeb" stroke-width="0.75"/>
<polygon points="448.1,82.3 457.4,82.3 463.2,74.5 468.6,68.0 474.1,62.8 480.0,57.8 485.0,53.9 489.9,50.9 493.4,49.1 499.8,45.9 504.8,43.6 509.7,41.8 513.1,40.2 518.9,38.8 523.5,37.9 528.7,36.9 528.7,37.9 524.7,40.3 521.2,42.1 518.9,43.6 513.1,45.8 509.7,48.9 504.8,51.9 499.8,54.9 493.4,58.8 489.9,61.3 485.0,64.6 480.0,67.4 474.1,73.8 468.6,79.9 463.2,86.5 457.4,94.5 448.1,94.5" fill="#cfcfcf"/>
<line x1="448.1" y1="127.7" x2="539.1" y2="36.5" stroke="#a8a8a8" stroke-width="0.6" stroke-dasharray="0.8,1.6"/>
<polyline points="448.1,127.7 448.1,88.5 457.4,88.5 463.2,80.5 468.6,74.1 474.1,68.2 480.0,63.0 485.0,59.3 489.9,56.0 493.4,53.9 499.8,50.4 504.8,47.7 509.7,44.8 513.1,43.0 518.9,41.0 523.5,39.2 528.7,37.2 538.7,37.2" fill="none" stroke="#ef7272" stroke-width="0.8" stroke-linejoin="round"/>
<rect x="443.20" y="32.50" width="100.60" height="99.70" fill="none" stroke="#7a7a7a" stroke-width="1.1"/>
<line x1="441.00" y1="127.60" x2="443.20" y2="127.60" stroke="#333" stroke-width="0.5"/>
<text x="441.50" y="130.90" font-size="9.4" text-anchor="end" fill="#4d4d4d" stroke="#4d4d4d" stroke-width="0.15">0.00</text>
<line x1="441.00" y1="104.92" x2="443.20" y2="104.92" stroke="#333" stroke-width="0.5"/>
<text x="441.50" y="108.22" font-size="9.4" text-anchor="end" fill="#4d4d4d" stroke="#4d4d4d" stroke-width="0.15">0.25</text>
<line x1="441.00" y1="82.25" x2="443.20" y2="82.25" stroke="#333" stroke-width="0.5"/>
<text x="441.50" y="85.55" font-size="9.4" text-anchor="end" fill="#4d4d4d" stroke="#4d4d4d" stroke-width="0.15">0.50</text>
<line x1="441.00" y1="59.58" x2="443.20" y2="59.58" stroke="#333" stroke-width="0.5"/>
<text x="441.50" y="62.88" font-size="9.4" text-anchor="end" fill="#4d4d4d" stroke="#4d4d4d" stroke-width="0.15">0.75</text>
<line x1="441.00" y1="36.90" x2="443.20" y2="36.90" stroke="#333" stroke-width="0.5"/>
<text x="441.50" y="40.20" font-size="9.4" text-anchor="end" fill="#4d4d4d" stroke="#4d4d4d" stroke-width="0.15">1.00</text>
<line x1="448.10" y1="132.20" x2="448.10" y2="134.40" stroke="#333" stroke-width="0.5"/>
<text x="440.70" y="142.20" font-size="9.9" fill="#4d4d4d" stroke="#4d4d4d" stroke-width="0.15">0.0</text>
<line x1="470.85" y1="132.20" x2="470.85" y2="134.40" stroke="#333" stroke-width="0.5"/>
<text x="463.45" y="142.20" font-size="9.9" fill="#4d4d4d" stroke="#4d4d4d" stroke-width="0.15">0.25</text>
<line x1="493.60" y1="132.20" x2="493.60" y2="134.40" stroke="#333" stroke-width="0.5"/>
<text x="486.20" y="142.20" font-size="9.9" fill="#4d4d4d" stroke="#4d4d4d" stroke-width="0.15">0.5</text>
<line x1="516.35" y1="132.20" x2="516.35" y2="134.40" stroke="#333" stroke-width="0.5"/>
<text x="508.95" y="142.20" font-size="9.9" fill="#4d4d4d" stroke="#4d4d4d" stroke-width="0.15">0.75</text>
<line x1="539.10" y1="132.20" x2="539.10" y2="134.40" stroke="#333" stroke-width="0.5"/>
<text x="531.70" y="142.20" font-size="9.9" fill="#4d4d4d" stroke="#4d4d4d" stroke-width="0.15">1.0</text>
<text x="444.10" y="28.90" font-size="9.65" fill="#000" stroke="#000" stroke-width="0.15">ROC − P:2, N:9</text>
<text x="502.00" y="150.70" font-size="9.7" text-anchor="middle" fill="#000" stroke="#000" stroke-width="0.15">1 - Specificity</text>
<text transform="translate(419.60,73.30) rotate(-90)" font-size="9.7" text-anchor="middle" fill="#000" stroke="#000" stroke-width="0.15">Sensitivity</text>
<rect x="577.50" y="32.40" width="99.40" height="99.80" fill="#fff"/>
<line x1="581.60" y1="32.40" x2="581.60" y2="132.20" stroke="#ebebeb" stroke-width="0.75"/>
<line x1="577.50" y1="127.70" x2="676.90" y2="127.70" stroke="#ebebeb" stroke-width="0.75"/>
<line x1="592.93" y1="32.40" x2="592.93" y2="132.20" stroke="#ebebeb" stroke-width="0.55"/>
<line x1="577.50" y1="116.38" x2="676.90" y2="116.38" stroke="#ebebeb" stroke-width="0.55"/>
<line x1="604.25" y1="32.40" x2="604.25" y2="132.20" stroke="#ebebeb" stroke-width="0.75"/>
<line x1="577.50" y1="105.05" x2="676.90" y2="105.05" stroke="#ebebeb" stroke-width="0.75"/>
<line x1="615.58" y1="32.40" x2="615.58" y2="132.20" stroke="#ebebeb" stroke-width="0.55"/>
<line x1="577.50" y1="93.73" x2="676.90" y2="93.73" stroke="#ebebeb" stroke-width="0.55"/>
<line x1="626.90" y1="32.40" x2="626.90" y2="132.20" stroke="#ebebeb" stroke-width="0.75"/>
<line x1="577.50" y1="82.40" x2="676.90" y2="82.40" stroke="#ebebeb" stroke-width="0.75"/>
<line x1="638.23" y1="32.40" x2="638.23" y2="132.20" stroke="#ebebeb" stroke-width="0.55"/>
<line x1="577.50" y1="71.08" x2="676.90" y2="71.08" stroke="#ebebeb" stroke-width="0.55"/>
<line x1="649.55" y1="32.40" x2="649.55" y2="132.20" stroke="#ebebeb" stroke-width="0.75"/>
<line x1="577.50" y1="59.75" x2="676.90" y2="59.75" stroke="#ebebeb" stroke-width="0.75"/>
<line x1="660.88" y1="32.40" x2="660.88" y2="132.20" stroke="#ebebeb" stroke-width="0.55"/>
<line x1="577.50" y1="48.43" x2="676.90" y2="48.43" stroke="#ebebeb" stroke-width="0.55"/>
<line x1="672.20" y1="32.40" x2="672.20" y2="132.20" stroke="#ebebeb" stroke-width="0.75"/>
<line x1="577.50" y1="37.10" x2="676.90" y2="37.10" stroke="#ebebeb" stroke-width="0.75"/>
<polygon points="581.6,60.2 589.2,58.2 596.5,56.6 603.8,55.1 611.1,53.9 617.9,52.9 617.9,64.5 611.1,66.0 603.8,68.2 596.5,70.9 589.2,73.7 581.6,77.0" fill="#cfcfcf"/>
<polygon points="626.7,85.6 672.3,77.1 672.3,86.0 626.7,96.7" fill="#cfcfcf"/>
<line x1="581.6" y1="110.9" x2="672.2" y2="110.9" stroke="#a8a8a8" stroke-width="0.6" stroke-dasharray="0.8,1.6"/>
<polyline points="581.6,68.4 589.2,65.1 596.5,62.7 603.8,60.6 611.1,59.0 617.6,57.8 626.7,91.3 672.3,81.9 672.3,110.9" fill="none" stroke="#ef7272" stroke-width="0.8" stroke-linejoin="round"/>
<rect x="577.50" y="32.40" width="99.40" height="99.80" fill="none" stroke="#7a7a7a" stroke-width="1.1"/>
<line x1="575.30" y1="127.70" x2="577.50" y2="127.70" stroke="#333" stroke-width="0.5"/>
<text x="573.90" y="132.30" font-size="9.4" text-anchor="end" fill="#4d4d4d" stroke="#4d4d4d" stroke-width="0.15">0.00</text>
<line x1="575.30" y1="105.05" x2="577.50" y2="105.05" stroke="#333" stroke-width="0.5"/>
<text x="573.90" y="109.65" font-size="9.4" text-anchor="end" fill="#4d4d4d" stroke="#4d4d4d" stroke-width="0.15">0.25</text>
<line x1="575.30" y1="82.40" x2="577.50" y2="82.40" stroke="#333" stroke-width="0.5"/>
<text x="573.90" y="87.00" font-size="9.4" text-anchor="end" fill="#4d4d4d" stroke="#4d4d4d" stroke-width="0.15">0.50</text>
<line x1="575.30" y1="59.75" x2="577.50" y2="59.75" stroke="#333" stroke-width="0.5"/>
<text x="573.90" y="64.35" font-size="9.4" text-anchor="end" fill="#4d4d4d" stroke="#4d4d4d" stroke-width="0.15">0.75</text>
<line x1="575.30" y1="37.10" x2="577.50" y2="37.10" stroke="#333" stroke-width="0.5"/>
<text x="573.90" y="41.70" font-size="9.4" text-anchor="end" fill="#4d4d4d" stroke="#4d4d4d" stroke-width="0.15">1.00</text>
<line x1="581.60" y1="132.20" x2="581.60" y2="134.40" stroke="#333" stroke-width="0.5"/>
<text x="577.50" y="142.20" font-size="9.9" fill="#4d4d4d" stroke="#4d4d4d" stroke-width="0.15">0.0</text>
<line x1="604.25" y1="132.20" x2="604.25" y2="134.40" stroke="#333" stroke-width="0.5"/>
<text x="600.15" y="142.20" font-size="9.9" fill="#4d4d4d" stroke="#4d4d4d" stroke-width="0.15">0.25</text>
<line x1="626.90" y1="132.20" x2="626.90" y2="134.40" stroke="#333" stroke-width="0.5"/>
<text x="622.80" y="142.20" font-size="9.9" fill="#4d4d4d" stroke="#4d4d4d" stroke-width="0.15">0.5</text>
<line x1="649.55" y1="132.20" x2="649.55" y2="134.40" stroke="#333" stroke-width="0.5"/>
<text x="645.45" y="142.20" font-size="9.9" fill="#4d4d4d" stroke="#4d4d4d" stroke-width="0.15">0.75</text>
<line x1="672.20" y1="132.20" x2="672.20" y2="134.40" stroke="#333" stroke-width="0.5"/>
<text x="668.10" y="142.20" font-size="9.9" fill="#4d4d4d" stroke="#4d4d4d" stroke-width="0.15">1.0</text>
<text x="564.80" y="29.00" font-size="9.65" fill="#000" stroke="#000" stroke-width="0.15">Precision−Recall − P:2, N:9</text>
<text x="633.30" y="151.30" font-size="9.7" text-anchor="middle" fill="#000" stroke="#000" stroke-width="0.15">Recall</text>
<text transform="translate(552.90,73.20) rotate(-90)" font-size="9.7" text-anchor="middle" fill="#000" stroke="#000" stroke-width="0.15">Precision</text>
<rect x="445.40" y="176.20" width="99.90" height="100.10" fill="#fff"/>
<line x1="450.00" y1="176.20" x2="450.00" y2="276.30" stroke="#ebebeb" stroke-width="0.75"/>
<line x1="445.40" y1="271.40" x2="545.30" y2="271.40" stroke="#ebebeb" stroke-width="0.75"/>
<line x1="461.30" y1="176.20" x2="461.30" y2="276.30" stroke="#ebebeb" stroke-width="0.55"/>
<line x1="445.40" y1="260.10" x2="545.30" y2="260.10" stroke="#ebebeb" stroke-width="0.55"/>
<line x1="472.60" y1="176.20" x2="472.60" y2="276.30" stroke="#ebebeb" stroke-width="0.75"/>
<line x1="445.40" y1="248.80" x2="545.30" y2="248.80" stroke="#ebebeb" stroke-width="0.75"/>
<line x1="483.90" y1="176.20" x2="483.90" y2="276.30" stroke="#ebebeb" stroke-width="0.55"/>
<line x1="445.40" y1="237.50" x2="545.30" y2="237.50" stroke="#ebebeb" stroke-width="0.55"/>
<line x1="495.20" y1="176.20" x2="495.20" y2="276.30" stroke="#ebebeb" stroke-width="0.75"/>
<line x1="445.40" y1="226.20" x2="545.30" y2="226.20" stroke="#ebebeb" stroke-width="0.75"/>
<line x1="506.50" y1="176.20" x2="506.50" y2="276.30" stroke="#ebebeb" stroke-width="0.55"/>
<line x1="445.40" y1="214.90" x2="545.30" y2="214.90" stroke="#ebebeb" stroke-width="0.55"/>
<line x1="517.80" y1="176.20" x2="517.80" y2="276.30" stroke="#ebebeb" stroke-width="0.75"/>
<line x1="445.40" y1="203.60" x2="545.30" y2="203.60" stroke="#ebebeb" stroke-width="0.75"/>
<line x1="529.10" y1="176.20" x2="529.10" y2="276.30" stroke="#ebebeb" stroke-width="0.55"/>
<line x1="445.40" y1="192.30" x2="545.30" y2="192.30" stroke="#ebebeb" stroke-width="0.55"/>
<line x1="540.40" y1="176.20" x2="540.40" y2="276.30" stroke="#ebebeb" stroke-width="0.75"/>
<line x1="445.40" y1="181.00" x2="545.30" y2="181.00" stroke="#ebebeb" stroke-width="0.75"/>
<polygon points="449.9,257.9 459.2,257.2 467.7,236.6 477.0,235.5 486.0,225.0 495.1,207.4 503.7,206.6 514.0,194.1 522.6,193.4 531.2,187.7 540.3,187.2 540.3,193.7 531.2,194.6 522.6,202.0 514.0,203.2 503.7,217.4 495.1,218.6 486.0,232.0 477.0,244.8 467.7,245.9 459.2,263.4 449.9,264.5" fill="#cfcfcf"/>
<line x1="450.0" y1="271.4" x2="540.4" y2="181.0" stroke="#a8a8a8" stroke-width="0.6" stroke-dasharray="0.8,1.6"/>
<polyline points="449.9,271.5 449.9,261.4 459.2,260.3 467.7,241.3 477.0,240.2 484.0,229.7 495.1,212.6 503.7,211.7 514.0,198.5 522.6,197.5 531.2,191.1 540.3,190.3 540.6,180.9" fill="none" stroke="#ef7272" stroke-width="0.8" stroke-linejoin="round"/>
<rect x="445.40" y="176.20" width="99.90" height="100.10" fill="none" stroke="#7a7a7a" stroke-width="1.1"/>
<line x1="443.20" y1="271.40" x2="445.40" y2="271.40" stroke="#333" stroke-width="0.5"/>
<text x="442.20" y="274.40" font-size="9.4" text-anchor="end" fill="#4d4d4d" stroke="#4d4d4d" stroke-width="0.15">0.00</text>
<line x1="443.20" y1="248.80" x2="445.40" y2="248.80" stroke="#333" stroke-width="0.5"/>
<text x="442.20" y="251.80" font-size="9.4" text-anchor="end" fill="#4d4d4d" stroke="#4d4d4d" stroke-width="0.15">0.25</text>
<line x1="443.20" y1="226.20" x2="445.40" y2="226.20" stroke="#333" stroke-width="0.5"/>
<text x="442.20" y="229.20" font-size="9.4" text-anchor="end" fill="#4d4d4d" stroke="#4d4d4d" stroke-width="0.15">0.50</text>
<line x1="443.20" y1="203.60" x2="445.40" y2="203.60" stroke="#333" stroke-width="0.5"/>
<text x="442.20" y="206.60" font-size="9.4" text-anchor="end" fill="#4d4d4d" stroke="#4d4d4d" stroke-width="0.15">0.75</text>
<line x1="443.20" y1="181.00" x2="445.40" y2="181.00" stroke="#333" stroke-width="0.5"/>
<text x="442.20" y="184.00" font-size="9.4" text-anchor="end" fill="#4d4d4d" stroke="#4d4d4d" stroke-width="0.15">1.00</text>
<line x1="450.00" y1="276.30" x2="450.00" y2="278.50" stroke="#333" stroke-width="0.5"/>
<text x="440.20" y="287.90" font-size="9.9" fill="#4d4d4d" stroke="#4d4d4d" stroke-width="0.15">0.0</text>
<line x1="472.60" y1="276.30" x2="472.60" y2="278.50" stroke="#333" stroke-width="0.5"/>
<text x="462.80" y="287.90" font-size="9.9" fill="#4d4d4d" stroke="#4d4d4d" stroke-width="0.15">0.25</text>
<line x1="495.20" y1="276.30" x2="495.20" y2="278.50" stroke="#333" stroke-width="0.5"/>
<text x="485.40" y="287.90" font-size="9.9" fill="#4d4d4d" stroke="#4d4d4d" stroke-width="0.15">0.5</text>
<line x1="517.80" y1="276.30" x2="517.80" y2="278.50" stroke="#333" stroke-width="0.5"/>
<text x="508.00" y="287.90" font-size="9.9" fill="#4d4d4d" stroke="#4d4d4d" stroke-width="0.15">0.75</text>
<line x1="540.40" y1="276.30" x2="540.40" y2="278.50" stroke="#333" stroke-width="0.5"/>
<text x="530.60" y="287.90" font-size="9.9" fill="#4d4d4d" stroke="#4d4d4d" stroke-width="0.15">1.0</text>
<text x="446.00" y="173.20" font-size="9.65" fill="#000" stroke="#000" stroke-width="0.15">ROC − P: 2, N: 6</text>
<text x="501.60" y="297.00" font-size="9.7" text-anchor="middle" fill="#000" stroke="#000" stroke-width="0.15">1 - Specificity</text>
<text transform="translate(420.60,217.30) rotate(-90)" font-size="9.7" text-anchor="middle" fill="#000" stroke="#000" stroke-width="0.15">Sensitivity</text>
<rect x="579.00" y="176.30" width="100.00" height="100.00" fill="#fff"/>
<line x1="583.60" y1="176.30" x2="583.60" y2="276.30" stroke="#ebebeb" stroke-width="0.75"/>
<line x1="579.00" y1="271.40" x2="679.00" y2="271.40" stroke="#ebebeb" stroke-width="0.75"/>
<line x1="594.91" y1="176.30" x2="594.91" y2="276.30" stroke="#ebebeb" stroke-width="0.55"/>
<line x1="579.00" y1="260.10" x2="679.00" y2="260.10" stroke="#ebebeb" stroke-width="0.55"/>
<line x1="606.23" y1="176.30" x2="606.23" y2="276.30" stroke="#ebebeb" stroke-width="0.75"/>
<line x1="579.00" y1="248.80" x2="679.00" y2="248.80" stroke="#ebebeb" stroke-width="0.75"/>
<line x1="617.54" y1="176.30" x2="617.54" y2="276.30" stroke="#ebebeb" stroke-width="0.55"/>
<line x1="579.00" y1="237.50" x2="679.00" y2="237.50" stroke="#ebebeb" stroke-width="0.55"/>
<line x1="628.85" y1="176.30" x2="628.85" y2="276.30" stroke="#ebebeb" stroke-width="0.75"/>
<line x1="579.00" y1="226.20" x2="679.00" y2="226.20" stroke="#ebebeb" stroke-width="0.75"/>
<line x1="640.16" y1="176.30" x2="640.16" y2="276.30" stroke="#ebebeb" stroke-width="0.55"/>
<line x1="579.00" y1="214.90" x2="679.00" y2="214.90" stroke="#ebebeb" stroke-width="0.55"/>
<line x1="651.48" y1="176.30" x2="651.48" y2="276.30" stroke="#ebebeb" stroke-width="0.75"/>
<line x1="579.00" y1="203.60" x2="679.00" y2="203.60" stroke="#ebebeb" stroke-width="0.75"/>
<line x1="662.79" y1="176.30" x2="662.79" y2="276.30" stroke="#ebebeb" stroke-width="0.55"/>
<line x1="579.00" y1="192.30" x2="679.00" y2="192.30" stroke="#ebebeb" stroke-width="0.55"/>
<line x1="674.10" y1="176.30" x2="674.10" y2="276.30" stroke="#ebebeb" stroke-width="0.75"/>
<line x1="579.00" y1="181.00" x2="679.00" y2="181.00" stroke="#ebebeb" stroke-width="0.75"/>
<polygon points="583.5,240.2 591.1,236.0 599.4,231.9 607.7,228.4 614.6,226.0 619.9,224.2 619.9,233.5 614.6,237.4 607.7,240.9 599.4,245.7 591.1,251.2 583.5,255.7" fill="#cfcfcf"/>
<polygon points="629.0,247.7 674.2,237.2 674.2,240.9 629.0,250.8" fill="#cfcfcf"/>
<line x1="583.6" y1="248.6" x2="674.1" y2="248.6" stroke="#a8a8a8" stroke-width="0.6" stroke-dasharray="0.8,1.6"/>
<polyline points="583.5,248.2 591.1,243.6 599.4,239.5 607.7,235.3 614.6,231.9 619.5,229.1 629.1,249.6 674.2,239.2 674.2,248.6" fill="none" stroke="#ef7272" stroke-width="0.8" stroke-linejoin="round"/>
<rect x="579.00" y="176.30" width="100.00" height="100.00" fill="none" stroke="#7a7a7a" stroke-width="1.1"/>
<line x1="576.80" y1="271.40" x2="579.00" y2="271.40" stroke="#333" stroke-width="0.5"/>
<text x="575.90" y="274.50" font-size="9.4" text-anchor="end" fill="#4d4d4d" stroke="#4d4d4d" stroke-width="0.15">0.00</text>
<line x1="576.80" y1="248.80" x2="579.00" y2="248.80" stroke="#333" stroke-width="0.5"/>
<text x="575.90" y="251.90" font-size="9.4" text-anchor="end" fill="#4d4d4d" stroke="#4d4d4d" stroke-width="0.15">0.25</text>
<line x1="576.80" y1="226.20" x2="579.00" y2="226.20" stroke="#333" stroke-width="0.5"/>
<text x="575.90" y="229.30" font-size="9.4" text-anchor="end" fill="#4d4d4d" stroke="#4d4d4d" stroke-width="0.15">0.50</text>
<line x1="576.80" y1="203.60" x2="579.00" y2="203.60" stroke="#333" stroke-width="0.5"/>
<text x="575.90" y="206.70" font-size="9.4" text-anchor="end" fill="#4d4d4d" stroke="#4d4d4d" stroke-width="0.15">0.75</text>
<line x1="576.80" y1="181.00" x2="579.00" y2="181.00" stroke="#333" stroke-width="0.5"/>
<text x="575.90" y="184.10" font-size="9.4" text-anchor="end" fill="#4d4d4d" stroke="#4d4d4d" stroke-width="0.15">1.00</text>
<line x1="583.60" y1="276.30" x2="583.60" y2="278.50" stroke="#333" stroke-width="0.5"/>
<text x="576.20" y="287.90" font-size="9.9" fill="#4d4d4d" stroke="#4d4d4d" stroke-width="0.15">0.0</text>
<line x1="606.23" y1="276.30" x2="606.23" y2="278.50" stroke="#333" stroke-width="0.5"/>
<text x="598.83" y="287.90" font-size="9.9" fill="#4d4d4d" stroke="#4d4d4d" stroke-width="0.15">0.25</text>
<line x1="628.85" y1="276.30" x2="628.85" y2="278.50" stroke="#333" stroke-width="0.5"/>
<text x="621.45" y="287.90" font-size="9.9" fill="#4d4d4d" stroke="#4d4d4d" stroke-width="0.15">0.5</text>
<line x1="651.48" y1="276.30" x2="651.48" y2="278.50" stroke="#333" stroke-width="0.5"/>
<text x="644.08" y="287.90" font-size="9.9" fill="#4d4d4d" stroke="#4d4d4d" stroke-width="0.15">0.75</text>
<line x1="674.10" y1="276.30" x2="674.10" y2="278.50" stroke="#333" stroke-width="0.5"/>
<text x="666.70" y="287.90" font-size="9.9" fill="#4d4d4d" stroke="#4d4d4d" stroke-width="0.15">1.0</text>
<text x="567.00" y="173.20" font-size="9.65" fill="#000" stroke="#000" stroke-width="0.15">Precision−Recall − P:2, N:6</text>
<text x="632.00" y="297.00" font-size="9.7" text-anchor="middle" fill="#000" stroke="#000" stroke-width="0.15">Recall</text>
<text transform="translate(553.60,218.20) rotate(-90)" font-size="9.7" text-anchor="middle" fill="#000" stroke="#000" stroke-width="0.15">Precision</text>
<text x="435.4" y="6.9" font-size="9.5" fill="#000" stroke="#000" stroke-width="0.15">C</text>
</svg></body></html>
